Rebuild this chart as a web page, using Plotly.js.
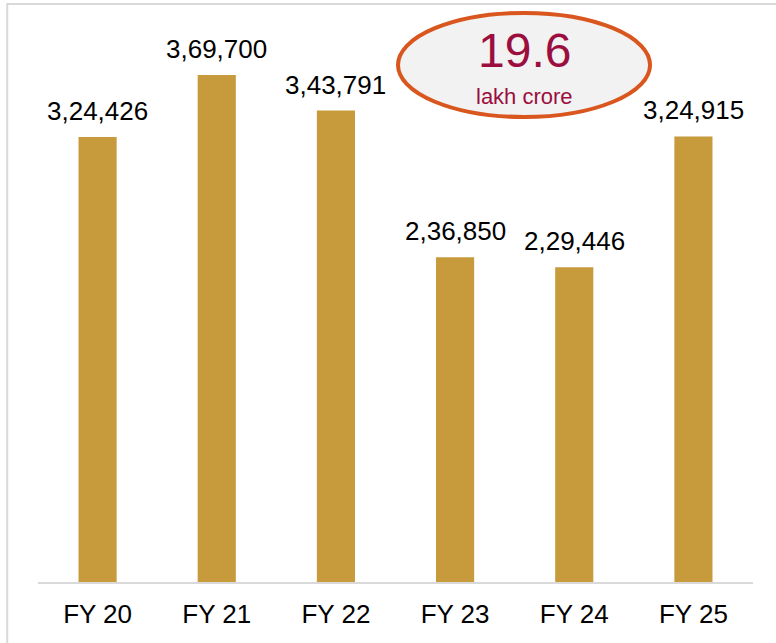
<!DOCTYPE html>
<html><head><meta charset="utf-8">
<script src="https://cdn.plot.ly/plotly-3.0.1.min.js"></script>
<style>html,body{margin:0;padding:0;background:#fff}</style>
</head><body><div id="chart" style="width:776px;height:643px"></div>
<script>
var categories = ["FY 20", "FY 21", "FY 22", "FY 23", "FY 24", "FY 25"];
var values = [324426, 369700, 343791, 236850, 229446, 324915];
var valueLabels = ["3,24,426", "3,69,700", "3,43,791", "2,36,850", "2,29,446", "3,24,915"];
var totalText = "19.6";
var totalUnit = "lakh crore";

var FONT = "Liberation Sans, Arial, sans-serif";

var trace = {
  type: "bar",
  x: categories,
  y: values,
  marker: {color: "#C79A3B"},
  hoverinfo: "none"
};

var annotations = categories.map(function(c, i){
  return {x: c, y: values[i], xref: "x", yref: "y", text: valueLabels[i],
    showarrow: false, xanchor: "center", yanchor: "bottom", yshift: 9,
    font: {family: FONT, size: 26, color: "#000"}};
});
annotations.push({xref: "paper", yref: "paper", x: 0.68, y: 0.945, text: totalText,
  xanchor: "center", yanchor: "middle",
  showarrow: false, font: {family: FONT, size: 48, color: "#9B0E3E"}});
annotations.push({xref: "paper", yref: "paper", x: 0.68, y: 0.864, text: totalUnit,
  xanchor: "center", yanchor: "middle",
  showarrow: false, font: {family: FONT, size: 22, color: "#9B0E3E"}});

var layout = {
  width: 776, height: 643,
  margin: {l: 38, r: 23, t: 20, b: 61},
  paper_bgcolor: "#fff", plot_bgcolor: "#fff",
  bargap: 0.68,
  showlegend: false,
  xaxis: {type: "category", showline: true, linecolor: "#d9d9d9", linewidth: 2,
    showgrid: false, zeroline: false, ticks: "", ticklabelstandoff: 8,
    tickfont: {family: FONT, size: 26, color: "#000"}, fixedrange: true},
  yaxis: {range: [0, 409800], visible: false, showgrid: false, zeroline: false, fixedrange: true},
  annotations: annotations,
  shapes: [
    {type: "rect", xref: "paper", yref: "paper", x0: -0.043, x1: 1.2, y0: -0.3, y1: 1.0285,
     line: {color: "#d9d9d9", width: 2}, fillcolor: "rgba(0,0,0,0)", layer: "below"},
    {type: "circle", xref: "paper", yref: "paper", x0: 0.5035, x1: 0.856, y0: 0.8274, y1: 1.0125,
     line: {color: "#D9561E", width: 4}, fillcolor: "#F2F2F2", layer: "above"}
  ]
};

Plotly.newPlot("chart", [trace], layout, {displayModeBar: false, staticPlot: true});
</script></body></html>
